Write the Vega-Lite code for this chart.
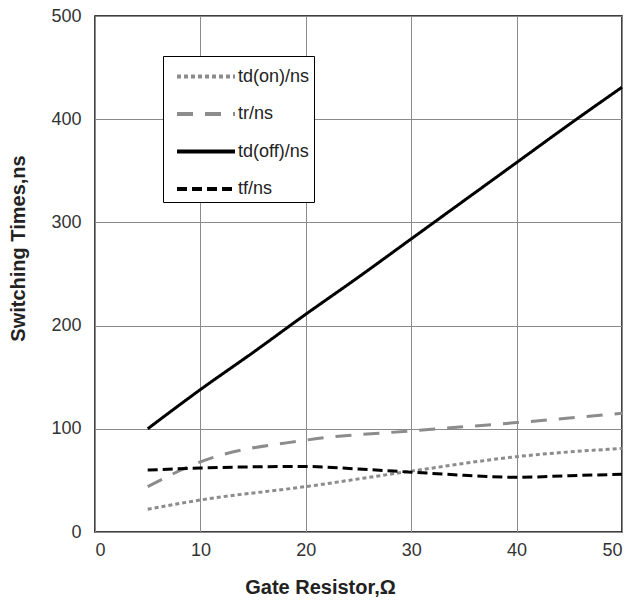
{
  "$schema": "https://vega.github.io/schema/vega-lite/v6.json",
  "width": 527,
  "height": 516,
  "autosize": {"type": "none"},
  "padding": {"left": 95, "top": 16, "right": 15, "bottom": 70},
  "background": "white",
  "config": {
    "view": {"stroke": "black", "strokeWidth": 1.5},
    "font": "Liberation Sans"
  },
  "data": {
    "values": [
      {"r": 5, "t": 22, "s": "td(on)/ns"},
      {"r": 10, "t": 31, "s": "td(on)/ns"},
      {"r": 20, "t": 44, "s": "td(on)/ns"},
      {"r": 30, "t": 59, "s": "td(on)/ns"},
      {"r": 40, "t": 73, "s": "td(on)/ns"},
      {"r": 50, "t": 81, "s": "td(on)/ns"},
      {"r": 5, "t": 44, "s": "tr/ns"},
      {"r": 10, "t": 68, "s": "tr/ns"},
      {"r": 20, "t": 89, "s": "tr/ns"},
      {"r": 30, "t": 98, "s": "tr/ns"},
      {"r": 40, "t": 106, "s": "tr/ns"},
      {"r": 50, "t": 115, "s": "tr/ns"},
      {"r": 5, "t": 100, "s": "td(off)/ns"},
      {"r": 10, "t": 138, "s": "td(off)/ns"},
      {"r": 15, "t": 174, "s": "td(off)/ns"},
      {"r": 20, "t": 211, "s": "td(off)/ns"},
      {"r": 25, "t": 247, "s": "td(off)/ns"},
      {"r": 30, "t": 284, "s": "td(off)/ns"},
      {"r": 35, "t": 321, "s": "td(off)/ns"},
      {"r": 40, "t": 358, "s": "td(off)/ns"},
      {"r": 45, "t": 395, "s": "td(off)/ns"},
      {"r": 50, "t": 431, "s": "td(off)/ns"},
      {"r": 5, "t": 60, "s": "tf/ns"},
      {"r": 10, "t": 62, "s": "tf/ns"},
      {"r": 20, "t": 63.5, "s": "tf/ns"},
      {"r": 25, "t": 61, "s": "tf/ns"},
      {"r": 30, "t": 58, "s": "tf/ns"},
      {"r": 35, "t": 55, "s": "tf/ns"},
      {"r": 40, "t": 53, "s": "tf/ns"},
      {"r": 45, "t": 54.5, "s": "tf/ns"},
      {"r": 50, "t": 56, "s": "tf/ns"}
    ]
  },
  "mark": {"type": "line", "strokeWidth": 3, "interpolate": "monotone"},
  "encoding": {
    "x": {
      "field": "r", "type": "quantitative",
      "scale": {"domain": [0, 50], "nice": false},
      "axis": {
        "title": "Gate Resistor,Ω", "values": [0, 10, 20, 30, 40, 50],
        "grid": true, "gridColor": "#8a8a8a", "gridOpacity": 1, "gridWidth": 1,
        "domain": false, "ticks": false,
        "labelFontSize": 18, "labelColor": "#333333", "labelFontWeight": "normal", "labelPadding": 9,
        "titleFontSize": 20, "titleFontWeight": "bold", "titleColor": "#222222",
        "titleX": 225, "titleY": 61, "titleBaseline": "alphabetic", "titleAnchor": "middle", "titleAlign": "center"
      }
    },
    "y": {
      "field": "t", "type": "quantitative",
      "scale": {"domain": [0, 500], "nice": false},
      "axis": {
        "title": "Switching Times,ns", "values": [0, 100, 200, 300, 400, 500],
        "grid": true, "gridColor": "#8a8a8a", "gridOpacity": 1, "gridWidth": 1,
        "domain": false, "ticks": false,
        "labelFontSize": 18, "labelColor": "#333333", "labelFontWeight": "normal", "labelPadding": 14,
        "titleFontSize": 20, "titleFontWeight": "bold", "titleColor": "#222222",
        "titleX": -77, "titleY": 232, "titleBaseline": "middle", "titleAnchor": "middle", "titleAlign": "center"
      }
    },
    "color": {
      "field": "s", "type": "nominal",
      "scale": {
        "domain": ["td(on)/ns", "tr/ns", "td(off)/ns", "tf/ns"],
        "range": ["#8c8c8c", "#8c8c8c", "#000000", "#000000"]
      },
      "legend": {
        "title": null, "orient": "none", "legendX": 68, "legendY": 40,
        "fillColor": "white", "strokeColor": "black", "padding": 4,
        "symbolType": "M-1.276,0H2.724", "symbolSize": 841, "symbolStrokeWidth": 4, "symbolOffset": 12,
        "labelFontSize": 18, "labelColor": "#222222", "rowPadding": 11.5, "labelOffset": 26
      }
    },
    "strokeDash": {
      "field": "s", "type": "nominal",
      "scale": {
        "domain": ["td(on)/ns", "tr/ns", "td(off)/ns", "tf/ns"],
        "range": [[4, 3], [16, 12], [1, 0], [10, 5]]
      },
      "legend": null
    }
  }
}
